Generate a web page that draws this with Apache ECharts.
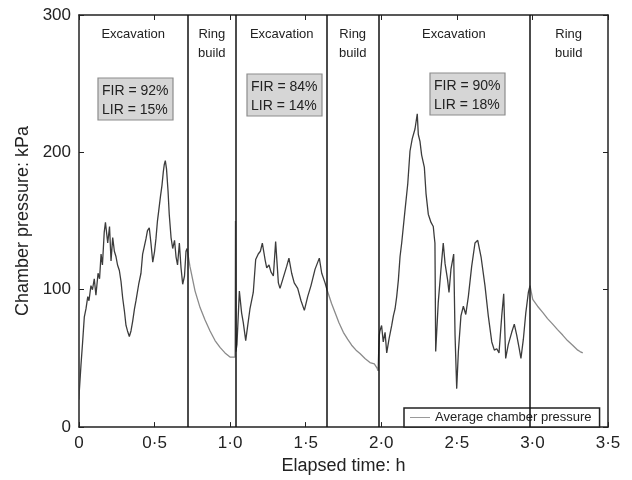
<!DOCTYPE html>
<html>
<head>
<meta charset="utf-8">
<script src="https://cdn.jsdelivr.net/npm/echarts@6/dist/echarts.min.js"></script>
<style>html,body{margin:0;padding:0;background:#fff}#c{width:632px;height:480px}</style>
</head>
<body>
<div id="c"></div>
<script>
// ---- data (elapsed time h, chamber pressure kPa) ----
var seg1Time = [0,0.002,0.013,0.024,0.035,0.046,0.058,0.066,0.079,0.089,0.101,0.112,0.126,0.136,0.146,0.155,0.167,0.175,0.190,0.202,0.212,0.223,0.234,0.245,0.255,0.267,0.278,0.289,0.301,0.311,0.321,0.333,0.344,0.355,0.367,0.377,0.395,0.410,0.421,0.433,0.443,0.453,0.465,0.476,0.488,0.500,0.509,0.519,0.527,0.539,0.549,0.558,0.564,0.571,0.579,0.589,0.597,0.609,0.620,0.632,0.642,0.652,0.664,0.675,0.686,0.698,0.708,0.715];
var seg1Pres = [20,26,45,62,80,86,95,92,103,100,108,96,112,108,126,118,142,149,134,146,121,138,128,124,118,114,106,94,84,74,70,66,70,77,86,92,104,112,126,132,137,143,145,134,120,128,137,150,157,168,176,186,191,194,188,172,155,138,130,136,124,118,134,116,104,110,128,130];
var ring1Time = [0.734,0.768,0.801,0.834,0.867,0.900,0.933,0.966,0.999,1.032,1.035,1.038,1.045];
var ring1Pres = [117,99,87,78,70,63,58,54,51,51,150,55,60];
var seg2Time = [1.061,1.076,1.087,1.103,1.114,1.131,1.153,1.169,1.186,1.200,1.213,1.231,1.242,1.257,1.270,1.286,1.301,1.319,1.330,1.352,1.374,1.389,1.407,1.424,1.447,1.469,1.491,1.513,1.535,1.562,1.590,1.606,1.628,1.641];
var seg2Pres = [99,83,76,63,72,86,98,122,126,128,134,122,116,118,113,110,135,105,101,109,117,123,112,105,101,92,85,95,103,115,123,112,105,100];
var ring2Time = [1.649,1.671,1.694,1.720,1.749,1.777,1.804,1.833,1.859,1.892,1.925,1.954,1.972,1.978];
var ring2Pres = [100,90,83.5,76,69,64,59.6,56,53.6,50,47,46,43,41];
var seg3Time = [1.987,1.991,2.002,2.013,2.025,2.036,2.051,2.069,2.080,2.091,2.102,2.113,2.124,2.135,2.157,2.175,2.190,2.205,2.223,2.238,2.245,2.256,2.267,2.285,2.296,2.311,2.329,2.344,2.351,2.355,2.360,2.377,2.395,2.410,2.422,2.439,2.448,2.461,2.479,2.488,2.499,2.510,2.527,2.543,2.559,2.576,2.598,2.620,2.638,2.660,2.686,2.708,2.731,2.748,2.764,2.779,2.797,2.810,2.823,2.840,2.863,2.880,2.896,2.913,2.924,2.940,2.956,2.973,2.984];
var seg3Pres = [67,70,74,62,69,54,64,74,81,86,95,107,124,134,158,177,201,210,217,228,213,208,198,189,170,155,149,146,138,134,55,91,115,134,119,107,98,115,126,67,28,55,81,88,82,95,117,134,136,124,103,81,62,56,57,54,81,97,50,60,69,75,67,57,50,64,83,98,103];
var ring3Time = [3.002,3.034,3.068,3.100,3.134,3.166,3.200,3.232,3.266,3.300,3.315,3.333];
var ring3Pres = [93,88,83.5,79,75,71,67,63,59.6,56,55,54];
var phaseBounds = [0.717,1.041,1.641,1.981,2.980];
var xTicks = ['0','0·5','1·0','1·5','2·0','2·5','3·0','3·5'];
var yTicks = ['0','100','200','300'];
var phaseLabels = ['Excavation','Ring\nbuild','Excavation','Ring\nbuild','Excavation','Ring\nbuild'];
var rateLabels = ['FIR = 92%\nLIR = 15%','FIR = 84%\nLIR = 14%','FIR = 90%\nLIR = 18%'];

var times = [].concat(seg1Time, ring1Time, seg2Time, ring2Time, seg3Time, ring3Time);
var pres = [].concat(seg1Pres, ring1Pres, seg2Pres, ring2Pres, seg3Pres, ring3Pres);
var pts = times.map(function(t,i){return [t, pres[i]];});

var FONT = 'Liberation Sans, Arial, Helvetica, sans-serif';
var chart = echarts.init(document.getElementById('c'), null, {renderer:'canvas'});

var axisLineStyle = {color:'#222', width:1.5};
var edges = [0].concat(phaseBounds, [3.5]);
var pieces = [];
for (var k=0;k<edges.length-1;k++){
  pieces.push({gte:edges[k], lt:edges[k+1], color:(k%2===0)?'#3c3c3c':'#8a8a8a'});
}
var opt = {
  animation:false,
  textStyle:{fontFamily:FONT},
  grid:{left:79, right:24, top:15, bottom:47},
  visualMap:{show:false, type:'piecewise', dimension:0, seriesIndex:0, pieces:pieces},
  xAxis:[{
    type:'value', min:0, max:3.5, interval:0.5, position:'bottom',
    axisLine:{show:true, onZero:false, lineStyle:axisLineStyle},
    axisTick:{show:true, inside:true, length:5, lineStyle:{color:'#222'}},
    splitLine:{show:false},
    axisLabel:{fontSize:17, color:'#222', fontFamily:FONT, margin:8,
      formatter:function(v){return xTicks[Math.round(v/0.5)];}},
    name:'Elapsed time: h', nameLocation:'middle', nameGap:25,
    nameTextStyle:{fontSize:18, color:'#222', fontFamily:FONT}
  },{
    type:'value', min:0, max:3.5, interval:0.5, position:'top',
    axisLine:{show:true, onZero:false, lineStyle:axisLineStyle},
    axisTick:{show:true, inside:true, length:5, lineStyle:{color:'#222'}},
    axisLabel:{show:false}, splitLine:{show:false}
  }],
  yAxis:[{
    type:'value', min:0, max:300, interval:100, position:'left',
    axisLine:{show:true, onZero:false, lineStyle:axisLineStyle},
    axisTick:{show:true, inside:true, length:5, lineStyle:{color:'#222'}},
    splitLine:{show:false},
    axisLabel:{fontSize:17, color:'#222', fontFamily:FONT, margin:8,
      formatter:function(v){return yTicks[Math.round(v/100)];}},
    name:'Chamber pressure: kPa', nameLocation:'middle', nameGap:47, nameRotate:90,
    nameTextStyle:{fontSize:18, color:'#222', fontFamily:FONT}
  },{
    type:'value', min:0, max:300, interval:100, position:'right',
    axisLine:{show:true, onZero:false, lineStyle:axisLineStyle},
    axisTick:{show:true, inside:true, length:5, lineStyle:{color:'#222'}},
    axisLabel:{show:false}, splitLine:{show:false}
  }],
  legend:{
    left:404, top:408, orient:'horizontal',
    backgroundColor:'#fff', borderColor:'#222', borderWidth:1.5, borderRadius:0,
    padding:[3,8,3,6], itemWidth:20, itemHeight:12, itemGap:5,
    textStyle:{fontSize:13, color:'#222', fontFamily:FONT},
    data:[{name:'Average chamber pressure', icon:'path://M0,5 L20,5 L20,6 L0,6 Z', itemStyle:{color:'#9a9a9a'}}]
  },
  series:[{
    name:'Average chamber pressure', type:'line', data:pts, symbol:'none',
    xAxisIndex:0, yAxisIndex:0,
    lineStyle:{width:1.3}, itemStyle:{color:'#9a9a9a'},
    markLine:{
      silent:true, symbol:['none','none'], label:{show:false},
      lineStyle:{color:'#111', width:1.5, type:'solid'},
      data:phaseBounds.map(function(b){return {xAxis:b};})
    }
  }]
};
chart.setOption(opt);

// phase labels and rate boxes
var g = [];
for (var i=0;i<phaseLabels.length;i++){
  var cx = (chart.convertToPixel({xAxisIndex:0}, edges[i]) + chart.convertToPixel({xAxisIndex:0}, edges[i+1]))/2;
  g.push({type:'text', x:cx, y:25, style:{text:phaseLabels[i], fill:'#222', font:'13px '+FONT, align:'center', verticalAlign:'top', lineHeight:19}});
}
var boxPos = [[98,78],[247,74],[430,73]];
for (var j=0;j<rateLabels.length;j++){
  var bx = boxPos[j][0], by = boxPos[j][1];
  g.push({type:'rect', shape:{x:bx, y:by, width:75, height:42}, style:{fill:'#d6d6d6', stroke:'#8c8c8c', lineWidth:1.2}});
  g.push({type:'text', x:bx+4, y:by+4, style:{text:rateLabels[j], fill:'#222', font:'14px '+FONT, align:'left', verticalAlign:'top', lineHeight:19}});
}
chart.setOption({graphic:g});
</script>
</body>
</html>
